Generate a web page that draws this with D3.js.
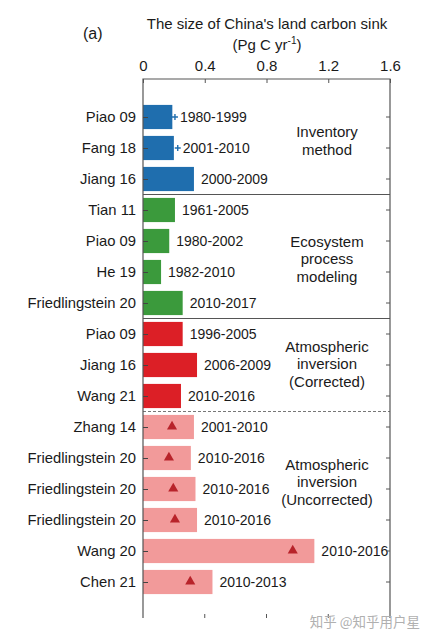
<!DOCTYPE html>
<html>
<head>
<meta charset="utf-8">
<script src="https://cdn.jsdelivr.net/npm/d3@7"></script>
<style>
  html, body { margin: 0; padding: 0; background: #fff; }
  svg { display: block; font-family: 'Liberation Sans', Arial, sans-serif; }
</style>
</head>
<body>
<div id="chart"></div>
<script>
// 研究ごとの名前（上から順）
var studies = ['Piao 09', 'Fang 18', 'Jiang 16',
  'Tian 11', 'Piao 09', 'He 19', 'Friedlingstein 20',
  'Piao 09', 'Jiang 16', 'Wang 21',
  'Zhang 14', 'Friedlingstein 20', 'Friedlingstein 20', 'Friedlingstein 20', 'Wang 20', 'Chen 21'];

// 対象期間
var periods = ['1980-1999', '2001-2010', '2000-2009',
  '1961-2005', '1980-2002', '1982-2010', '2010-2017',
  '1996-2005', '2006-2009', '2010-2016',
  '2001-2010', '2010-2016', '2010-2016', '2010-2016', '2010-2016', '2010-2013'];

// 吸収量 (Pg C yr-1)
var sinks = [0.19, 0.20, 0.33,
  0.207, 0.17, 0.117, 0.257,
  0.257, 0.35, 0.246,
  0.33, 0.31, 0.34, 0.35, 1.11, 0.45];

// 手法の区分 0:inventory 1:ecosystem 2:corrected 3:uncorrected
var methods = [0, 0, 0, 1, 1, 1, 1, 2, 2, 2, 3, 3, 3, 3, 3, 3];

// 誤差の上端（'+'で表示）
var upperErr = [0.207, 0.225, null, null, null, null, null, null, null, null,
  null, null, null, null, null, null];

// 補正後の値（三角で表示）
var corrected = [null, null, null, null, null, null, null, null, null, null,
  0.188, 0.168, 0.196, 0.207, 0.97, 0.306];

// 区分ラベル
var groupLabels = [
  ['Inventory', 'method'],
  ['Ecosystem', 'process', 'modeling'],
  ['Atmospheric', 'inversion', '(Corrected)'],
  ['Atmospheric', 'inversion', '(Uncorrected)']
];
var groupLabelRow = [0.77, 4.58, 7.97, 11.77];

// 目盛り
var xTicks = [0, 0.4, 0.8, 1.2, 1.6];

var colors = ['#1f6eae', '#3b9a3c', '#dc1f26', '#f29a9a'];
var triColor = '#b8232a';

var width = 432;
var height = 643;

var plotTop = 79;
var plotBottom = 618;

var x = d3.scaleLinear().domain([0, 1.6]).range([143, 390]);
// 行の中心位置
var y = d3.scaleLinear().domain([0, 15]).range([117, 582]);
var step = y(1) - y(0);
var barH = step * 0.78;

var svg = d3.select('#chart').append('svg')
  .attr('width', width)
  .attr('height', height);

svg.append('rect')
  .attr('width', width)
  .attr('height', height)
  .attr('fill', '#fff');

var rows = d3.range(studies.length);

// 棒
svg.append('g').selectAll('rect')
  .data(rows)
  .enter()
  .append('rect')
  .attr('x', x(0))
  .attr('y', function(i) { return y(i) - barH / 2; })
  .attr('width', function(i) { return x(sinks[i]) - x(0); })
  .attr('height', barH)
  .attr('fill', function(i) { return colors[methods[i]]; });

// 誤差の'+'
var plusRows = rows.filter(function(i) { return upperErr[i] !== null; });
svg.append('g').selectAll('path')
  .data(plusRows)
  .enter()
  .append('path')
  .attr('d', function(i) {
    var cx = x(upperErr[i]);
    var cy = y(i);
    return 'M' + (cx - 3) + ',' + cy + 'H' + (cx + 3) + 'M' + cx + ',' + (cy - 3) + 'V' + (cy + 3);
  })
  .attr('stroke', colors[0])
  .attr('stroke-width', 1.4)
  .attr('fill', 'none');

// 三角マーカー
var triRows = rows.filter(function(i) { return corrected[i] !== null; });
svg.append('g').selectAll('path')
  .data(triRows)
  .enter()
  .append('path')
  .attr('d', d3.symbol().type(d3.symbolTriangle).size(44))
  .attr('transform', function(i) {
    return 'translate(' + x(corrected[i]) + ',' + (y(i) - 0.5) + ')';
  })
  .attr('fill', triColor);

// 期間ラベル
svg.append('g').selectAll('text')
  .data(rows)
  .enter()
  .append('text')
  .attr('x', function(i) {
    if (upperErr[i] !== null) return x(upperErr[i]) + 5;
    return x(sinks[i]) + 7;
  })
  .attr('y', function(i) { return y(i); })
  .attr('dy', '0.35em')
  .attr('font-size', 14)
  .attr('fill', '#1a1a1a')
  .text(function(i) { return periods[i]; });

// 区切り線
var frame = svg.append('g')
  .attr('stroke', '#555')
  .attr('fill', 'none');

[2.5, 6.5].forEach(function(r) {
  frame.append('line')
    .attr('x1', x(0)).attr('x2', x(1.6))
    .attr('y1', y(r)).attr('y2', y(r))
    .attr('stroke-width', 1.2);
});

frame.append('line')
  .attr('x1', x(0)).attr('x2', x(1.6))
  .attr('y1', y(9.5)).attr('y2', y(9.5))
  .attr('stroke', '#777')
  .attr('stroke-dasharray', '3,2');

// 枠（下辺はなし）
frame.append('path')
  .attr('d', 'M' + x(0) + ',' + plotBottom + 'V' + plotTop + 'H' + x(1.6) + 'V' + plotBottom)
  .attr('stroke-width', 1.2);

// 上の軸
var topAxis = svg.append('g')
  .attr('transform', 'translate(0,' + plotTop + ')')
  .call(d3.axisTop(x).tickValues(xTicks).tickSize(-4).tickPadding(8)
    .tickFormat(function(d) { return d === 0 ? '0' : d3.format('.1f')(d); }));
topAxis.select('.domain').remove();
topAxis.selectAll('line').attr('stroke', '#555');
topAxis.selectAll('text')
  .attr('font-size', 15)
  .attr('font-family', null)
  .attr('fill', '#1a1a1a');

// 下の目盛り
svg.append('g').selectAll('line')
  .data(xTicks.slice(1, 4))
  .enter()
  .append('line')
  .attr('x1', function(d) { return x(d); })
  .attr('x2', function(d) { return x(d); })
  .attr('y1', plotBottom)
  .attr('y2', plotBottom - 4)
  .attr('stroke', '#555');

// 左の軸（研究名）
var leftAxis = svg.append('g')
  .attr('transform', 'translate(' + x(0) + ',0)')
  .call(d3.axisLeft(y).tickValues(rows).tickSize(-5).tickPadding(7)
    .tickFormat(function(i) { return studies[i]; }));
leftAxis.select('.domain').remove();
leftAxis.selectAll('line').attr('stroke', '#444');
leftAxis.selectAll('text')
  .attr('font-size', 14.8)
  .attr('font-family', null)
  .attr('fill', '#1a1a1a');

// 右の目盛り
svg.append('g').selectAll('line')
  .data(rows)
  .enter()
  .append('line')
  .attr('x1', x(1.6))
  .attr('x2', x(1.6) - 4)
  .attr('y1', function(i) { return y(i); })
  .attr('y2', function(i) { return y(i); })
  .attr('stroke', '#555');

// 区分ラベル
var lineH = 17.5;
groupLabels.forEach(function(lines, g) {
  var cy = y(groupLabelRow[g]);
  var t = svg.append('text')
    .attr('x', 327)
    .attr('text-anchor', 'middle')
    .attr('font-size', 15)
    .attr('fill', '#1a1a1a');
  lines.forEach(function(s, k) {
    t.append('tspan')
      .attr('x', 327)
      .attr('y', cy + (k - (lines.length - 1) / 2) * lineH)
      .attr('dy', '0.35em')
      .text(s);
  });
});

// タイトル
svg.append('text')
  .attr('x', 267)
  .attr('y', 29)
  .attr('text-anchor', 'middle')
  .attr('font-size', 15)
  .attr('fill', '#1a1a1a')
  .text('The size of China\'s land carbon sink');

var unit = svg.append('text')
  .attr('x', 267)
  .attr('y', 50)
  .attr('text-anchor', 'middle')
  .attr('font-size', 15)
  .attr('fill', '#1a1a1a');
unit.append('tspan').text('(Pg C yr');
unit.append('tspan').attr('dy', -6).attr('font-size', 10).text('-1');
unit.append('tspan').attr('dy', 6).text(')');

svg.append('text')
  .attr('x', 83)
  .attr('y', 39)
  .attr('font-size', 16)
  .attr('fill', '#1a1a1a')
  .text('(a)');

// 透かし
svg.append('text')
  .attr('x', 420)
  .attr('y', 627)
  .attr('text-anchor', 'end')
  .attr('font-size', 13.5)
  .attr('font-family', '\'Noto Sans CJK SC\', sans-serif')
  .attr('fill', '#b0b0b0')
  .text('知乎 @知乎用户星');
</script>
</body>
</html>
